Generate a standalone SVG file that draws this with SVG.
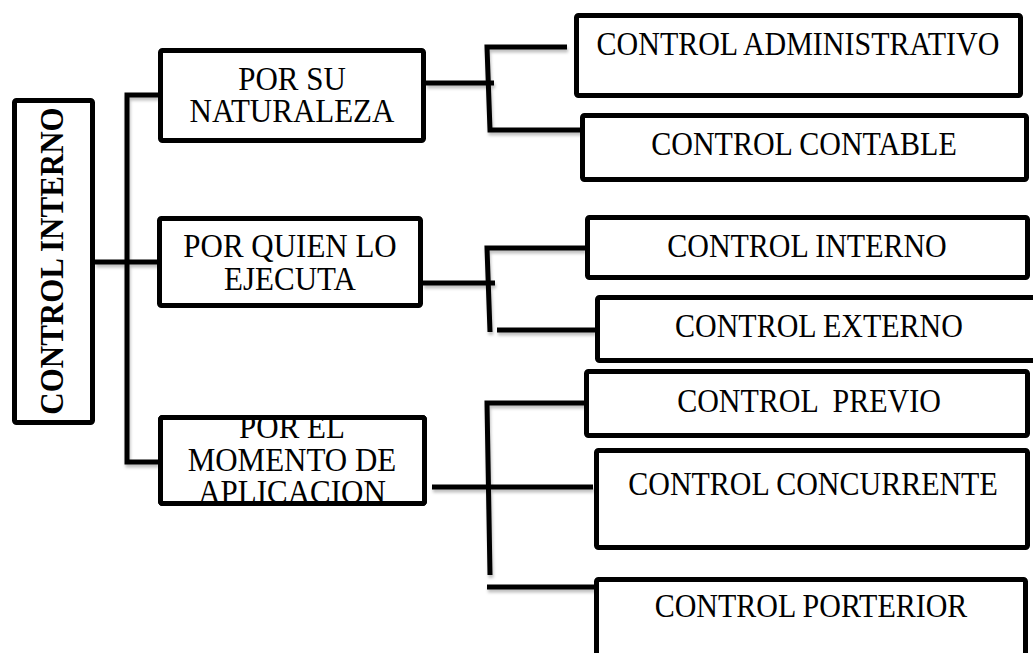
<svg xmlns="http://www.w3.org/2000/svg" width="1033" height="653" viewBox="0 0 1033 653">
<defs>
<filter id="sh" x="-10%" y="-10%" width="120%" height="140%">
<feDropShadow dx="1" dy="3" stdDeviation="1.5" flood-color="#000" flood-opacity="0.25"/>
</filter>
<style>
.box{fill:#fff;stroke:#000;stroke-width:5;stroke-linejoin:round}
.frame{fill:none;stroke:#000;stroke-width:5;stroke-linejoin:round}
.con{fill:none;stroke:#000;stroke-width:5;stroke-linejoin:miter;stroke-linecap:butt}
.t{font-family:"Liberation Serif","Times New Roman",serif;font-size:30px;fill:#000;text-anchor:middle}
.l{font-size:31px}
.b{font-weight:bold;font-size:31px}
</style>
</defs>
<rect width="1033" height="653" fill="#fff"/>
<g id="connectors" filter="url(#sh)">
<path class="con" d="M95,262 H158"/>
<path class="con" d="M158,95 H127 V462 H158"/>
<path class="con" d="M426,83 H494"/>
<path class="con" d="M567,47 H487 L490,130 H583"/>
<path class="con" d="M423,283 H495"/>
<path class="con" d="M585,248 H487 L490,332"/>
<path class="con" d="M497,330 H595"/>
<path class="con" d="M432,487 H593"/>
<path class="con" d="M585,403 H487 L490,575"/>
<path class="con" d="M487,587 H595"/>
</g>
<g id="root">
<rect class="box" x="14.5" y="100.5" width="78" height="322" rx="2"/>
<text class="t b" transform="translate(63,261) rotate(-90) scale(1,1.1)">CONTROL INTERNO</text>
</g>
<g id="naturaleza">
<rect class="box" x="160.5" y="50.5" width="263" height="90" rx="2"/>
<text class="t l" transform="translate(292,90) scale(1,1.1)">POR SU</text>
<text class="t l" transform="translate(292,122) scale(1,1.1)">NATURALEZA</text>
</g>
<g id="ejecuta">
<rect class="box" x="159.5" y="218.5" width="261" height="87" rx="2"/>
<text class="t l" transform="translate(290,257) scale(1,1.1)">POR QUIEN LO</text>
<text class="t l" transform="translate(290,290) scale(1,1.1)">EJECUTA</text>
</g>
<g id="momento">
<rect class="box" x="160.5" y="417.5" width="264" height="86" rx="2"/>
<text class="t l" transform="translate(292,438) scale(1,1.1)">POR EL</text>
<text class="t l" transform="translate(292,471) scale(1,1.1)">MOMENTO DE</text>
<text class="t l" transform="translate(292,503) scale(1,1.1)">APLICACION</text>
<rect class="frame" x="160.5" y="417.5" width="264" height="86" rx="2"/>
</g>
<g id="administrativo">
<rect class="box" x="576.5" y="15.5" width="444" height="80" rx="2"/>
<text class="t" transform="translate(798,55) scale(1,1.1)">CONTROL ADMINISTRATIVO</text>
</g>
<g id="contable">
<rect class="box" x="582.5" y="115.5" width="444" height="64" rx="2"/>
<text class="t" transform="translate(804,155) scale(1,1.1)">CONTROL CONTABLE</text>
</g>
<g id="interno">
<rect class="box" x="587.5" y="217.5" width="440" height="60" rx="2"/>
<text class="t" transform="translate(807,257) scale(1,1.1)">CONTROL INTERNO</text>
</g>
<g id="externo">
<rect class="box" x="597.5" y="297.5" width="440" height="63" rx="2"/>
<text class="t" transform="translate(819,337) scale(1,1.1)">CONTROL EXTERNO</text>
</g>
<g id="previo">
<rect class="box" x="586.5" y="371.5" width="441" height="64" rx="2"/>
<text class="t" transform="translate(809,412) scale(1,1.1)" xml:space="preserve">CONTROL  PREVIO</text>
</g>
<g id="concurrente">
<rect class="box" x="596.5" y="450.5" width="431" height="97" rx="2"/>
<text class="t" transform="translate(813,495) scale(1,1.1)">CONTROL CONCURRENTE</text>
</g>
<g id="porterior">
<rect class="box" x="596.5" y="579.5" width="429" height="80" rx="2"/>
<text class="t" transform="translate(811,617) scale(1,1.1)">CONTROL PORTERIOR</text>
</g>
</svg>
